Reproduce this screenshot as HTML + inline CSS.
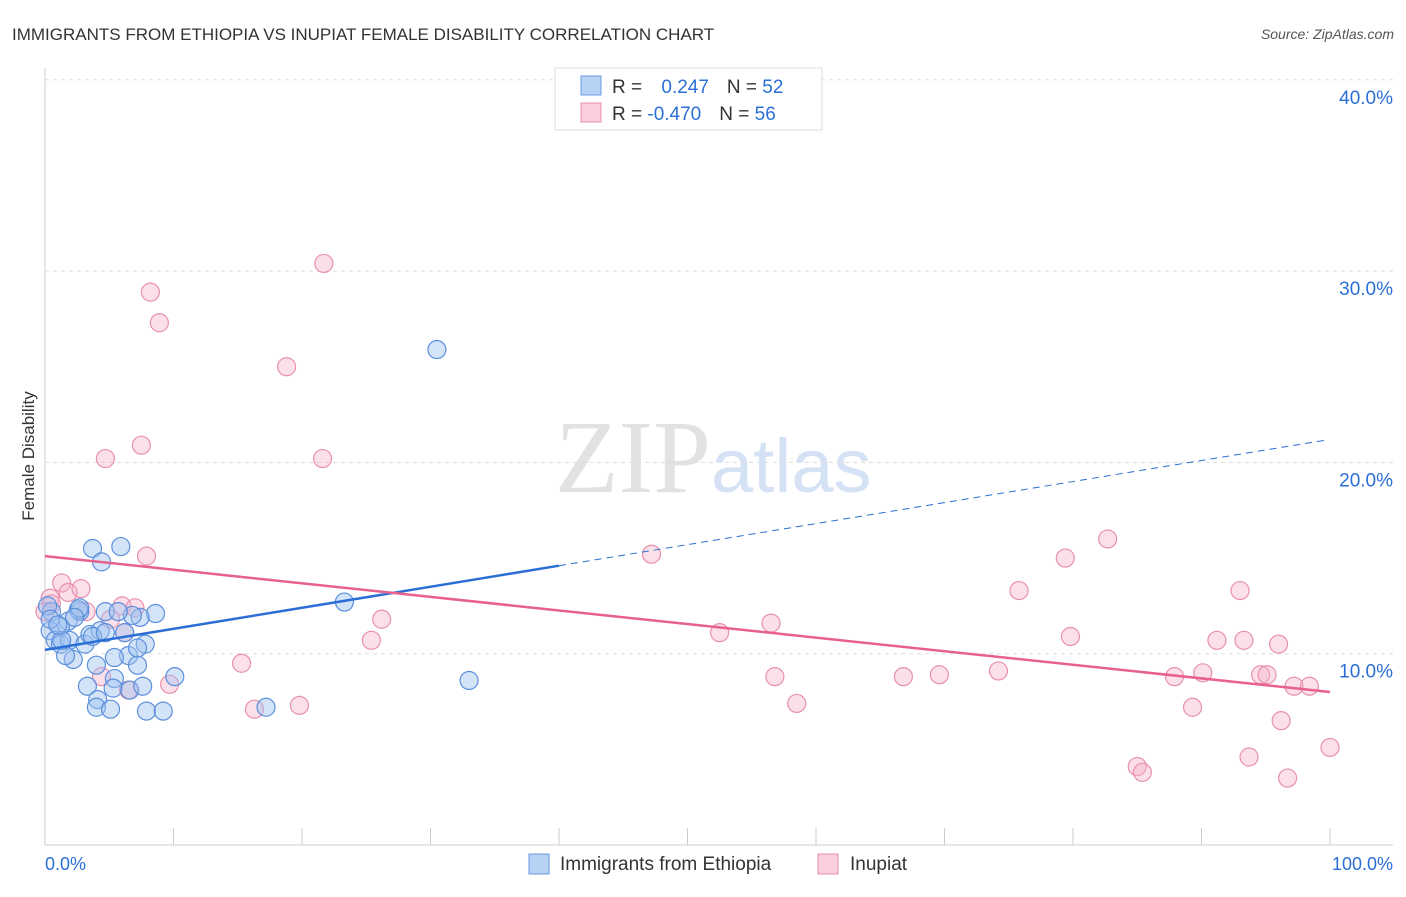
<!DOCTYPE html>
<html><head><meta charset="utf-8"><style>
body{margin:0;background:#fff;font-family:"Liberation Sans",sans-serif;}
svg text{font-family:"Liberation Sans",sans-serif;}
</style></head><body>
<svg id="c" width="1406" height="892">
<text x="12" y="40" font-size="17" fill="#333">IMMIGRANTS FROM ETHIOPIA VS INUPIAT FEMALE DISABILITY CORRELATION CHART</text>
<text x="1394" y="39" font-size="14" fill="#555" font-style="italic" text-anchor="end">Source: ZipAtlas.com</text>
<text x="34" y="456" font-size="17" fill="#333" text-anchor="middle" transform="rotate(-90 34 456)">Female Disability</text>
<text x="555" y="492" font-size="104"><tspan fill="#e2e2e2" font-family="Liberation Serif">ZIP</tspan><tspan fill="#d5e2f5" font-family="Liberation Sans" font-size="76">atlas</tspan></text>
<g id="grid"></g><g id="marks"></g><g id="lines"></g>
<g>
<rect x="555" y="68" width="267" height="62" fill="#fff" stroke="#ddd"/>
<rect x="581" y="76" width="20" height="19" fill="#b8d2f5" stroke="#6a9be0"/>
<rect x="581" y="103" width="20" height="19" fill="#fbcfdc" stroke="#e890ae"/>
<text x="612" y="93" font-size="19" fill="#333">R = <tspan fill="#2b6fd6" dx="14">0.247</tspan><tspan dx="18">N = </tspan><tspan fill="#2b6fd6">52</tspan></text>
<text x="612" y="120" font-size="19" fill="#333">R = <tspan fill="#2b6fd6">-0.470</tspan><tspan dx="18">N = </tspan><tspan fill="#2b6fd6">56</tspan></text>
</g>
<g>
<rect x="529" y="854" width="20" height="20" fill="#b8d2f5" stroke="#6a9be0"/>
<text x="560" y="870" font-size="19" fill="#333">Immigrants from Ethiopia</text>
<rect x="818" y="854" width="20" height="20" fill="#fbcfdc" stroke="#e890ae"/>
<text x="850" y="870" font-size="19" fill="#333">Inupiat</text>
</g>
<text x="45" y="870" font-size="18" fill="#2b6fd6">0.0%</text>
<text x="1393" y="870" font-size="18" fill="#2b6fd6" text-anchor="end">100.0%</text>
</svg>
<script>
const yTicks=[10,20,30,40];
const blueX=[3.7,5.9,4.4,30.5,23.3,33.0,17.2,10.1,8.6,7.4,6.8,4.7,2.7,2.6,1.8,1.2,0.5,0.2,0.4,0.8,1.2,1.9,3.1,3.5,4.3,6.2,6.5,7.8,7.2,5.4,4.0,2.2,1.6,3.3,5.4,5.3,6.6,7.6,4.1,4.0,5.1,7.9,9.2,2.7,3.7,4.7,2.3,1.3,0.4,1.0,5.7,7.2];
const blueY=[15.5,15.6,14.8,25.9,12.7,8.6,7.2,8.8,12.1,11.9,12.0,12.2,12.2,12.3,11.7,11.4,12.2,12.5,11.2,10.7,10.5,10.7,10.5,11.0,11.2,11.1,9.9,10.5,9.4,9.8,9.4,9.7,9.9,8.3,8.7,8.2,8.1,8.3,7.6,7.2,7.1,7.0,7.0,12.4,10.9,11.1,11.9,10.7,11.8,11.5,12.2,10.3];
const pinkX=[21.7,8.2,8.9,18.8,7.5,4.7,21.6,7.9,47.2,82.7,79.4,75.8,93.0,0.4,1.3,1.8,2.8,3.2,6.0,6.2,5.1,26.2,25.4,52.5,56.5,79.8,91.2,93.3,96.0,15.3,9.7,4.4,6.5,16.3,19.8,56.8,58.5,66.8,69.6,74.2,87.9,90.1,94.6,95.1,97.2,98.4,89.3,96.2,100,93.7,85.0,85.4,96.7,0.5,0,7.0];
const pinkY=[30.4,28.9,27.3,25.0,20.9,20.2,20.2,15.1,15.2,16.0,15.0,13.3,13.3,12.9,13.7,13.2,13.4,12.2,12.5,11.1,11.8,11.8,10.7,11.1,11.6,10.9,10.7,10.7,10.5,9.5,8.4,8.8,8.1,7.1,7.3,8.8,7.4,8.8,8.9,9.1,8.8,9.0,8.9,8.9,8.3,8.3,7.2,6.5,5.1,4.6,4.1,3.8,3.5,12.6,12.2,12.4];
const blueTrend=[10.2,0.11];
const pinkTrend=[15.1,-0.071];
const NS='http://www.w3.org/2000/svg';
const X=v=>45+v*12.85, Y=v=>845-v*19.13;
function mk(t,a,p){const e=document.createElementNS(NS,t);for(const k in a)e.setAttribute(k,a[k]);p.appendChild(e);return e;}
const grid=document.getElementById('grid'),marks=document.getElementById('marks'),lines=document.getElementById('lines');
let ax=mk('line',{x1:45,y1:68,x2:45,y2:845,stroke:'#ccc'},grid);


let bx=mk('line',{x1:45,y1:845,x2:1393,y2:845,stroke:'#ccc'},grid);


for(let i=1;i<=10;i++){const t=mk('line',{x1:X(i*10),y1:828,x2:X(i*10),y2:845,stroke:'#ccc'},grid);

}
yTicks.forEach(v=>{const g=mk('line',{x1:45,y1:Y(v),x2:1393,y2:Y(v),stroke:'#ddd','stroke-dasharray':'4 4'},grid);


const t=mk('text',{x:1393,y:Y(v)+24,'font-size':19,fill:'#2b6fd6','text-anchor':'end'},grid);t.textContent=v.toFixed(1)+'%';

});
function pts(xs,ys,fill,stroke,name){xs.forEach((x,i)=>{const c=mk('circle',{cx:X(x),cy:Y(ys[i]),r:9,fill:fill,stroke:stroke,'stroke-width':1.2},marks);

});}
pts(pinkX,pinkY,'rgba(245,175,200,0.4)','#e890ae','inupiat-point');
pts(blueX,blueY,'rgba(160,195,240,0.45)','#5b8fdc','ethiopia-point');
let l1=mk('line',{x1:X(0),y1:Y(blueTrend[0]),x2:X(40),y2:Y(blueTrend[0]+blueTrend[1]*40),stroke:'#2b6fd6','stroke-width':2.5},lines);


let l2=mk('line',{x1:X(40),y1:Y(blueTrend[0]+blueTrend[1]*40),x2:X(99.7),y2:Y(blueTrend[0]+blueTrend[1]*99.7),stroke:'#2b6fd6','stroke-width':1,'stroke-dasharray':'7 5'},lines);


let l3=mk('line',{x1:X(0),y1:Y(pinkTrend[0]),x2:X(100),y2:Y(pinkTrend[0]+pinkTrend[1]*100),stroke:'#e8608e','stroke-width':2.5},lines);


</script>
</body></html>
